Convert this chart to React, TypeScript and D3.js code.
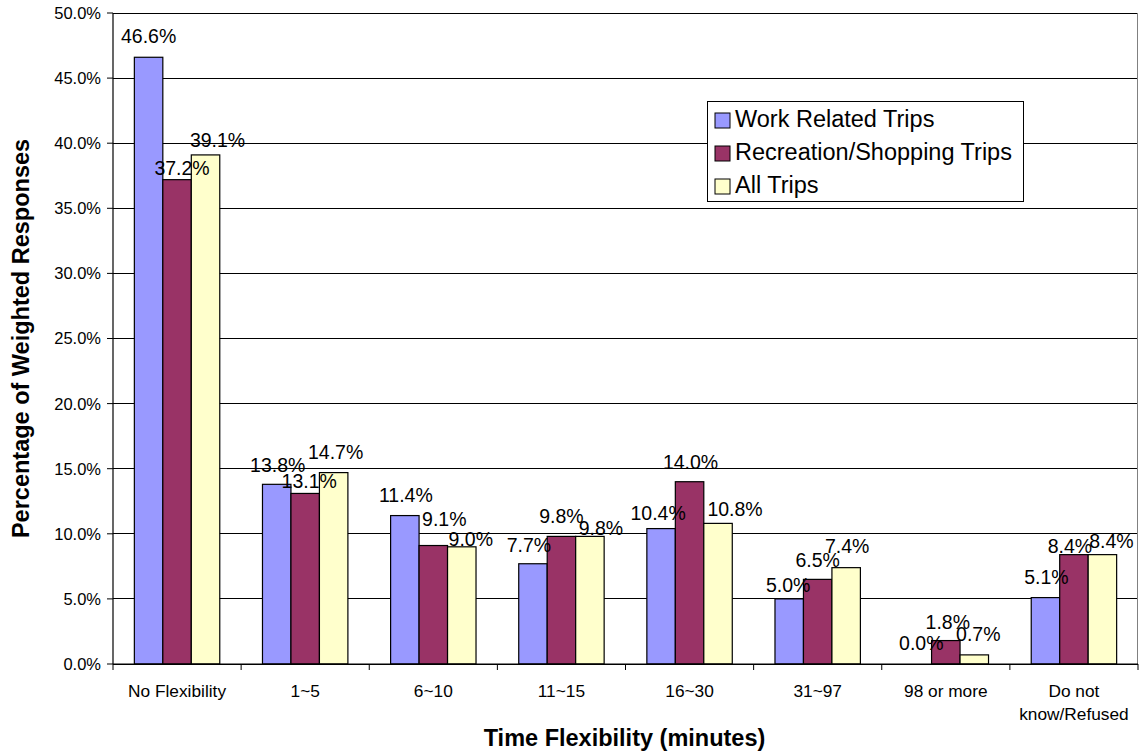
import React from "react";
import * as d3 from "d3";

const categories = ["No Flexibility", "1~5", "6~10", "11~15", "16~30", "31~97", "98 or more", "Do not know/Refused"];
const seriesNames = ["Work Related Trips", "Recreation/Shopping Trips", "All Trips"];
const workTrips = [46.6, 13.8, 11.4, 7.7, 10.4, 5.0, 0.0, 5.1];
const recreationTrips = [37.2, 13.1, 9.1, 9.8, 14.0, 6.5, 1.8, 8.4];
const allTrips = [39.1, 14.7, 9.0, 9.8, 10.8, 7.4, 0.7, 8.4];
const yTicks = [0, 5, 10, 15, 20, 25, 30, 35, 40, 45, 50];

// label nudges (dx from bar centre, gap from bar top to label baseline)
const workNudge = [[0, 14], [1, 12], [1, 14], [-4, 12], [-3, 9], [-1, 7], [4, 14], [1, 14]];
const recNudge = [[5, 5], [4, 5], [11, 20], [0, 13], [1, 13], [0, 12], [2, 12], [-4, 2]];
const allNudge = [[12, 8], [2, 14], [9, 1], [11, 1], [17, 7], [1, 15], [4, 14], [9, 7]];

const colors = ["#9999FF", "#993366", "#FFFFCC"];
const FONT = "Arial, 'Liberation Sans', Helvetica, sans-serif";

export default function App() {
  const W = 1140, H = 752;
  const left = 113, right = 1138, top = 13, bottom = 664;
  const x = d3.scaleBand<string>().domain(categories).range([left, right]).paddingInner(0).paddingOuter(0);
  const y = d3.scaleLinear().domain([0, 50]).range([bottom, top]);
  const bw = x.bandwidth();
  const barW = bw / 4.5;
  const groupOffset = (bw - 3 * barW) / 2;
  const series = [workTrips, recreationTrips, allTrips];
  const nudges = [workNudge, recNudge, allNudge];

  return (
    <svg width={W} height={H} style={{ position: "absolute", left: 0, top: 0, background: "#fff" }} fontFamily={FONT}>
      <rect x={0} y={0} width={W} height={H} fill="#fff" />
      {/* gridlines */}
      {yTicks.map((t) => (
        <line key={"g" + t} x1={left} x2={right} y1={y(t)} y2={y(t)} stroke="#000" strokeWidth={1} shapeRendering="crispEdges" />
      ))}
      <line x1={right - 0.5} x2={right - 0.5} y1={top} y2={bottom} stroke="#808080" strokeWidth={1} />
      {/* bars */}
      {series.map((vals, si) =>
        vals.map((v, ci) => {
          const bx = (x(categories[ci]) as number) + groupOffset + si * barW;
          return (
            <rect key={`b${si}-${ci}`} x={bx} y={y(v)} width={barW} height={bottom - y(v)} fill={colors[si]} stroke="#000" strokeWidth={1.2} />
          );
        })
      )}
      {/* axes */}
      <line x1={left} x2={left} y1={top} y2={bottom} stroke="#000" strokeWidth={1.2} />
      <line x1={left} x2={right} y1={bottom} y2={bottom} stroke="#000" strokeWidth={1.2} />
      {yTicks.map((t) => (
        <g key={"yt" + t}>
          <line x1={left - 6} x2={left} y1={y(t)} y2={y(t)} stroke="#000" strokeWidth={1} />
          <text x={101} y={y(t)} dy="0.36em" textAnchor="end" fontSize={16.5} fill="#000">
            {d3.format(".1f")(t) + "%"}
          </text>
        </g>
      ))}
      {categories.map((c, i) => (
        <line key={"xt" + i} x1={x(c) as number} x2={x(c) as number} y1={bottom} y2={bottom + 6} stroke="#000" strokeWidth={1} />
      ))}
      <line x1={right} x2={right} y1={bottom} y2={bottom + 6} stroke="#000" strokeWidth={1} />
      {categories.map((c, i) => {
        const cx = (x(c) as number) + bw / 2;
        const lines = c === "Do not know/Refused" ? ["Do not", "know/Refused"] : [c];
        return (
          <text key={"xl" + i} x={cx} y={697} textAnchor="middle" fontSize={17.3} fill="#000">
            {lines.map((ln, k) => (
              <tspan key={k} x={cx} dy={k === 0 ? 0 : 23}>{ln}</tspan>
            ))}
          </text>
        );
      })}
      {/* data labels */}
      {series.map((vals, si) =>
        vals.map((v, ci) => {
          const cx = (x(categories[ci]) as number) + groupOffset + si * barW + barW / 2;
          const [dx, gap] = nudges[si][ci];
          return (
            <text key={`l${si}-${ci}`} x={cx + dx} y={y(v) - gap} textAnchor="middle" fontSize={19.5} fill="#000">
              {d3.format(".1f")(v) + "%"}
            </text>
          );
        })
      )}
      {/* axis titles */}
      <text x={(left + right) / 2 - 1} y={746} textAnchor="middle" fontSize={23.5} fontWeight="bold" fill="#000">
        Time Flexibility (minutes)
      </text>
      <text transform={`translate(29,${(top + bottom) / 2}) rotate(-90)`} textAnchor="middle" fontSize={23.5} fontWeight="bold" fill="#000">
        Percentage of Weighted Responses
      </text>
      {/* legend */}
      <g>
        <rect x={707.5} y={101.5} width={316} height={100} fill="#fff" stroke="#000" strokeWidth={1} />
        {seriesNames.map((n, i) => (
          <g key={"lg" + i}>
            <rect x={715} y={113 + i * 33} width={15} height={15} fill={colors[i]} stroke="#000" strokeWidth={1} />
            <text x={735} y={127 + i * 33} fontSize={23.5} fill="#000">{n}</text>
          </g>
        ))}
      </g>
    </svg>
  );
}
